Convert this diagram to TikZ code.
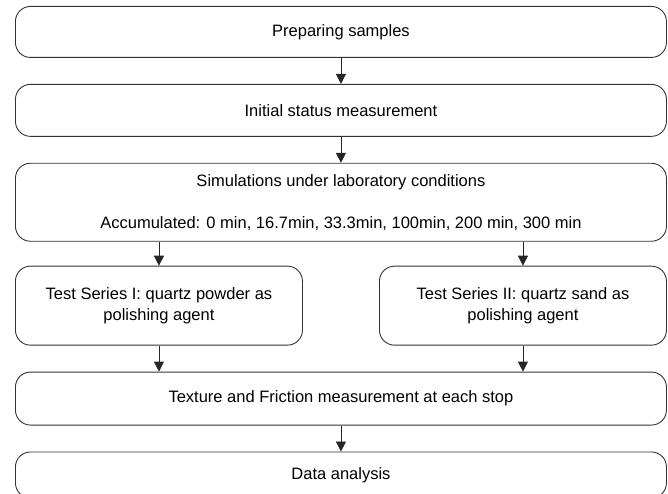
\documentclass[tikz,border=0pt]{standalone}
\usepackage{fontspec}
\setmainfont{Liberation Sans}
\usetikzlibrary{arrows.meta,positioning}

\begin{document}
\begin{tikzpicture}[font=\fontsize{16.5}{21}\selectfont,>={Triangle[length=10pt,width=10pt]},
wide/.style={draw=black!80,line width=0.9pt,rounded corners=15pt,align=center,inner sep=0pt,minimum width=651pt},
half/.style={draw=black!80,line width=0.9pt,rounded corners=15pt,align=center,inner sep=0pt,minimum width=287pt,minimum height=79pt},
flow/.style={->,line width=0.9pt,draw=black!85}]
\useasboundingbox (0,0) rectangle (668pt,-494pt);
\node[wide,minimum height=51pt,anchor=north west] (prep) at (15pt,-6pt) {Preparing samples};
\node[wide,minimum height=52pt,below=26pt of prep] (init) {Initial status measurement};
\node[wide,minimum height=78pt,below=26pt of init] (sim) {Simulations under laboratory conditions\\[21pt]Accumulated: 0 min, 16.7min, 33.3min, 100min, 200 min, 300 min};
\node[half,below=24pt of sim.south west,anchor=north west] (seriesA) {Test Series I: quartz powder as\\polishing agent};
\node[half,below=24pt of sim.south east,anchor=north east] (seriesB) {Test Series II: quartz sand as\\polishing agent};
\node[wide,minimum height=53pt,below=26pt of seriesA.south west,anchor=north west] (meas) {Texture and Friction measurement at each stop};
\node[wide,minimum height=46pt,below=26pt of meas] (data) {Data analysis};
\draw[flow] (prep)--(init);
\draw[flow] (init)--(sim);
\draw[flow] (sim.south -| seriesA.north)--(seriesA.north);
\draw[flow] (sim.south -| seriesB.north)--(seriesB.north);
\draw[flow] (seriesA.south)--(meas.north -| seriesA.south);
\draw[flow] (seriesB.south)--(meas.north -| seriesB.south);
\draw[flow] (meas)--(data);
\end{tikzpicture}
\end{document}
